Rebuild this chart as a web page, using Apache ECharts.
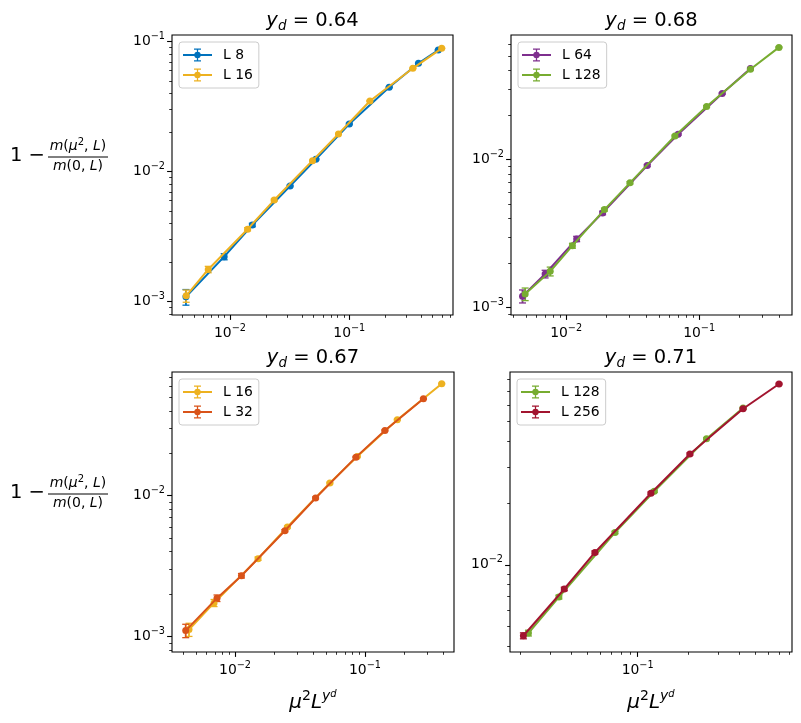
<!DOCTYPE html>
<html>
<head>
<meta charset="utf-8">
<script src="https://cdn.jsdelivr.net/npm/echarts@6.0.0/dist/echarts.min.js"></script>
<style>
  body { margin: 0; background: #fff; }
  #graphs { width: 801px; height: 723px; }
</style>
</head>
<body>
<div id="graphs"></div>
<script>
// values (x = mu^2 L^yd, y = 1 - m(mu^2,L)/m(0,L), e = error)
var ydLabels = ['0.64', '0.68', '0.67', '0.71'];

var p1L8x  = [0.00428, 0.00895, 0.0154, 0.0319, 0.0525, 0.100, 0.216, 0.380, 0.557];
var p1L8y  = [0.00109, 0.00222, 0.00389, 0.00776, 0.01245, 0.0233, 0.0446, 0.0682, 0.0863];
var p1L8e  = [0.00015, 0.00012, 0.00012, 0.0001, 0.00015, 0.0003, 0.0004, 0.0005, 0.0006];
var p1L16x = [0.00430, 0.00658, 0.01406, 0.0235, 0.0492, 0.0812, 0.149, 0.341, 0.595];
var p1L16y = [0.00111, 0.00177, 0.00361, 0.00605, 0.01216, 0.0195, 0.0350, 0.0624, 0.0889];
var p1L16e = [0.00012, 0.0001, 0.0001, 0.0001, 0.00012, 0.0002, 0.0003, 0.0005, 0.0006];

var p2L64x  = [0.00470, 0.00695, 0.0120, 0.0188, 0.0407, 0.0695, 0.149, 0.243];
var p2L64y  = [0.00119, 0.00168, 0.00290, 0.00435, 0.00910, 0.0148, 0.0279, 0.0413];
var p2L64e  = [0.00012, 0.0001, 0.00012, 0.00012, 0.00015, 0.0002, 0.0003, 0.0004];
var p2L128x = [0.00492, 0.00759, 0.01115, 0.0194, 0.0302, 0.0658, 0.1138, 0.243, 0.398];
var p2L128y = [0.00123, 0.00175, 0.00261, 0.00458, 0.00695, 0.0144, 0.0228, 0.0408, 0.0573];
var p2L128e = [0.00012, 0.00012, 0.0001, 0.0001, 0.00012, 0.0002, 0.0003, 0.0004, 0.0005];

var p3L16x = [0.00442, 0.00689, 0.01503, 0.0253, 0.0537, 0.0873, 0.1775, 0.390];
var p3L16y = [0.00112, 0.00173, 0.00357, 0.00599, 0.0123, 0.0190, 0.0347, 0.0625];
var p3L16e = [0.00012, 0.0001, 0.0001, 0.0001, 0.00015, 0.0002, 0.0003, 0.0005];
var p3L32x = [0.00417, 0.00726, 0.0112, 0.0242, 0.0417, 0.0853, 0.1425, 0.282];
var p3L32y = [0.00110, 0.00187, 0.00270, 0.00564, 0.00964, 0.0188, 0.0291, 0.0489];
var p3L32e = [0.00012, 0.0001, 0.0001, 0.0001, 0.00015, 0.0002, 0.0003, 0.0004];

var p4L128x = [0.0224, 0.0340, 0.0733, 0.1256, 0.257, 0.424];
var p4L128y = [0.00465, 0.00696, 0.01436, 0.0228, 0.0411, 0.0580];
var p4L128e = [0.00015, 0.00015, 0.0002, 0.0003, 0.0004, 0.0005];
var p4L256x = [0.0209, 0.0366, 0.0557, 0.120, 0.2047, 0.424, 0.694];
var p4L256y = [0.00451, 0.00762, 0.01148, 0.0223, 0.0346, 0.0575, 0.0759];
var p4L256e = [0.00015, 0.00015, 0.0002, 0.0003, 0.0004, 0.0005, 0.0006];

// major tick values per panel
var p1XTicks = [0.01, 0.1], p1YTicks = [0.001, 0.01, 0.1];
var p2XTicks = [0.01, 0.1], p2YTicks = [0.001, 0.01];
var p3XTicks = [0.01, 0.1], p3YTicks = [0.001, 0.01];
var p4XTicks = [0.1],       p4YTicks = [0.01];

var FONT = 'DejaVu Sans';

var panels = [
  {grid: {left: 172, top: 35, width: 281, height: 280}, xr: [0.00327, 0.74], yr: [0.00079, 0.1126],
   xt: p1XTicks, yt: p1YTicks, xlabel: false,
   series: [{name: 'L 8', color: '#0072BD', x: p1L8x, y: p1L8y, e: p1L8e},
            {name: 'L 16', color: '#EDB120', x: p1L16x, y: p1L16y, e: p1L16e}]},
  {grid: {left: 511, top: 35, width: 281, height: 280}, xr: [0.00385, 0.499], yr: [0.000887, 0.0695],
   xt: p2XTicks, yt: p2YTicks, xlabel: false,
   series: [{name: 'L 64', color: '#7E2F8E', x: p2L64x, y: p2L64y, e: p2L64e},
            {name: 'L 128', color: '#77AC30', x: p2L128x, y: p2L128y, e: p2L128e}]},
  {grid: {left: 172, top: 372, width: 282, height: 280}, xr: [0.00327, 0.485], yr: [0.000775, 0.0757],
   xt: p3XTicks, yt: p3YTicks, xlabel: true,
   series: [{name: 'L 16', color: '#EDB120', x: p3L16x, y: p3L16y, e: p3L16e},
            {name: 'L 32', color: '#D95319', x: p3L32x, y: p3L32y, e: p3L32e}]},
  {grid: {left: 510, top: 372, width: 282, height: 280}, xr: [0.0174, 0.829], yr: [0.00376, 0.0868],
   xt: p4XTicks, yt: p4YTicks, xlabel: true,
   series: [{name: 'L 128', color: '#77AC30', x: p4L128x, y: p4L128y, e: p4L128e},
            {name: 'L 256', color: '#A2142F', x: p4L256x, y: p4L256y, e: p4L256e}]}
];

function minorTicks(r) {
  var out = [];
  for (var p = Math.floor(Math.log10(r[0])); p <= Math.ceil(Math.log10(r[1])); p++) {
    for (var k = 2; k <= 9; k++) {
      var v = k * Math.pow(10, p);
      if (v >= r[0] && v <= r[1]) out.push(v);
    }
  }
  return out;
}

function powLabel(v) {
  var e = Math.round(Math.log10(v));
  return '{b|10}{s|' + (e < 0 ? '\u2212' : '') + Math.abs(e) + '}';
}

var tickRich = {
  b: {fontFamily: FONT, fontSize: 13.9, color: '#000', lineHeight: 20},
  s: {fontFamily: FONT, fontSize: 9.7, color: '#000', lineHeight: 8, verticalAlign: 'top'}
};

function axisPair(dim, gi, range, ticks) {
  var major = {
    type: 'log', logBase: 10, gridIndex: gi, min: range[0], max: range[1],
    position: dim === 'x' ? 'bottom' : 'left',
    axisLine: {show: false}, splitLine: {show: false},
    axisTick: {show: true, length: 4.9, lineStyle: {color: '#000', width: 1.1}, customValues: ticks},
    axisLabel: {show: true, customValues: ticks, margin: dim === 'x' ? 8 : 7,
                formatter: powLabel, rich: tickRich}
  };
  var minor = {
    type: 'log', logBase: 10, gridIndex: gi, min: range[0], max: range[1],
    position: dim === 'x' ? 'bottom' : 'left',
    axisLine: {show: false}, splitLine: {show: false},
    axisTick: {show: true, length: 2.8, lineStyle: {color: '#000', width: 0.8}, customValues: minorTicks(range)},
    axisLabel: {show: false}
  };
  return [major, minor];
}

// legend icon: line + marker + error bar with caps (all subpaths clockwise)
var ebIcon = 'path://M0 6.1H29V7.9H0Z M13.85 0.5H15.15V13.5H13.85Z M11 0.5H18V1.8H11Z M11 12.2H18V13.5H11Z ' +
             'M11.3 7A3.2 3.2 0 1 1 17.7 7A3.2 3.2 0 1 1 11.3 7Z';

var grids = [], xAxes = [], yAxes = [], legends = [], series = [], graphics = [];

panels.forEach(function (p, gi) {
  grids.push(Object.assign({show: true, borderColor: '#000', borderWidth: 1.1, backgroundColor: '#fff'}, p.grid));
  xAxes = xAxes.concat(axisPair('x', gi, p.xr, p.xt));
  yAxes = yAxes.concat(axisPair('y', gi, p.yr, p.yt));

  legends.push({
    left: p.grid.left + 7, top: p.grid.top + 7, orient: 'vertical', selectedMode: false,
    itemWidth: 29, itemHeight: 14, itemGap: 6, padding: [6, 6, 6, 4],
    backgroundColor: 'rgba(255,255,255,0.8)', borderColor: '#cccccc', borderWidth: 1, borderRadius: 3,
    textStyle: {fontFamily: FONT, fontSize: 13.9, color: '#000', padding: [0, 0, 0, 6]},
    data: p.series.map(function (s) {
      return {name: s.name, icon: ebIcon,
              itemStyle: {color: s.color, borderColor: s.color, borderWidth: 0, opacity: 1}};
    })
  });

  p.series.forEach(function (s, si) {
    var color = s.color;
    series.push({
      type: 'custom', name: s.name + ' err ' + gi, xAxisIndex: 2 * gi, yAxisIndex: 2 * gi,
      z: 2, silent: true,
      data: s.x.map(function (x, i) { return [x, s.y[i], s.e[i]]; }),
      encode: {x: 0, y: 1},
      renderItem: function (params, api) {
        var x = api.value(0), y = api.value(1), e = api.value(2);
        var a = api.coord([x, y + e]), b = api.coord([x, y - e]);
        var c = 3.5;
        return {type: 'group', children: [
          {type: 'line', shape: {x1: a[0], y1: a[1], x2: b[0], y2: b[1]}, style: {stroke: color, lineWidth: 1.8}},
          {type: 'line', shape: {x1: a[0] - c, y1: a[1], x2: a[0] + c, y2: a[1]}, style: {stroke: color, lineWidth: 1.3}},
          {type: 'line', shape: {x1: b[0] - c, y1: b[1], x2: b[0] + c, y2: b[1]}, style: {stroke: color, lineWidth: 1.3}}
        ]};
      }
    });
    series.push({
      type: 'line', name: s.name, xAxisIndex: 2 * gi, yAxisIndex: 2 * gi,
      z: 3 + si, silent: true,
      data: s.x.map(function (x, i) { return [x, s.y[i]]; }),
      symbol: 'circle', symbolSize: 7, showSymbol: true,
      lineStyle: {width: 2, color: color}, itemStyle: {color: color},
      emphasis: {disabled: true}
    });
  });

  // title y_d = ...
  var cx = p.grid.left + p.grid.width / 2;
  graphics.push({
    type: 'text', x: cx, y: p.grid.top - 14,
    style: {
      text: '{i|y}{d|d}{n| = ' + ydLabels[gi] + '}', align: 'center', verticalAlign: 'middle',
      rich: {
        i: {fontFamily: FONT, fontStyle: 'italic', fontSize: 19.5, fill: '#000', lineHeight: 24},
        d: {fontFamily: FONT, fontStyle: 'italic', fontSize: 13.5, fill: '#000', lineHeight: 14, verticalAlign: 'bottom'},
        n: {fontFamily: FONT, fontSize: 19.5, fill: '#000', lineHeight: 24}
      }
    }
  });

  if (p.xlabel) {
    graphics.push({
      type: 'text', x: cx, y: 703,
      style: {
        text: '{i|\u03bc}{sp|2}{i|L}{sy|y}{sd|d}', align: 'center', verticalAlign: 'middle',
        rich: {
          i: {fontFamily: FONT, fontStyle: 'italic', fontSize: 20, fill: '#000', lineHeight: 28},
          sp: {fontFamily: FONT, fontSize: 14, fill: '#000', lineHeight: 12, verticalAlign: 'top'},
          sy: {fontFamily: FONT, fontStyle: 'italic', fontSize: 14, fill: '#000', lineHeight: 12, verticalAlign: 'top'},
          sd: {fontFamily: FONT, fontStyle: 'italic', fontSize: 10, fill: '#000', lineHeight: 18, verticalAlign: 'top'}
        }
      }
    });
  }
});

// y label "1 - m(mu^2, L) / m(0, L)" for each row
var fracRich = {
  i: {fontFamily: FONT, fontStyle: 'italic', fontSize: 14, fill: '#000', lineHeight: 18},
  r: {fontFamily: FONT, fontSize: 14, fill: '#000', lineHeight: 18},
  s: {fontFamily: FONT, fontSize: 10, fill: '#000', lineHeight: 10, verticalAlign: 'top'}
};
[155, 492].forEach(function (cy) {
  graphics.push({type: 'text', x: 10, y: cy + 1,
    style: {text: '1 \u2212', fontFamily: FONT, fontSize: 19.5, fill: '#000', align: 'left', verticalAlign: 'middle'}});
  graphics.push({type: 'text', x: 78, y: cy - 8.5,
    style: {text: '{i|m}{r|(}{i|\u03bc}{s|2}{r|, }{i|L}{r|)}', rich: fracRich, align: 'center', verticalAlign: 'middle'}});
  graphics.push({type: 'line', shape: {x1: 48, y1: cy + 2, x2: 108, y2: cy + 2}, style: {stroke: '#000', lineWidth: 1}});
  graphics.push({type: 'text', x: 78, y: cy + 11.5,
    style: {text: '{i|m}{r|(0, }{i|L}{r|)}', rich: fracRich, align: 'center', verticalAlign: 'middle'}});
});

var myChart = echarts.init(document.getElementById('graphs'));
myChart.setOption({
  animation: false,
  backgroundColor: '#fff',
  grid: grids,
  xAxis: xAxes,
  yAxis: yAxes,
  legend: legends,
  series: series,
  graphic: graphics
});
</script>
</body>
</html>
